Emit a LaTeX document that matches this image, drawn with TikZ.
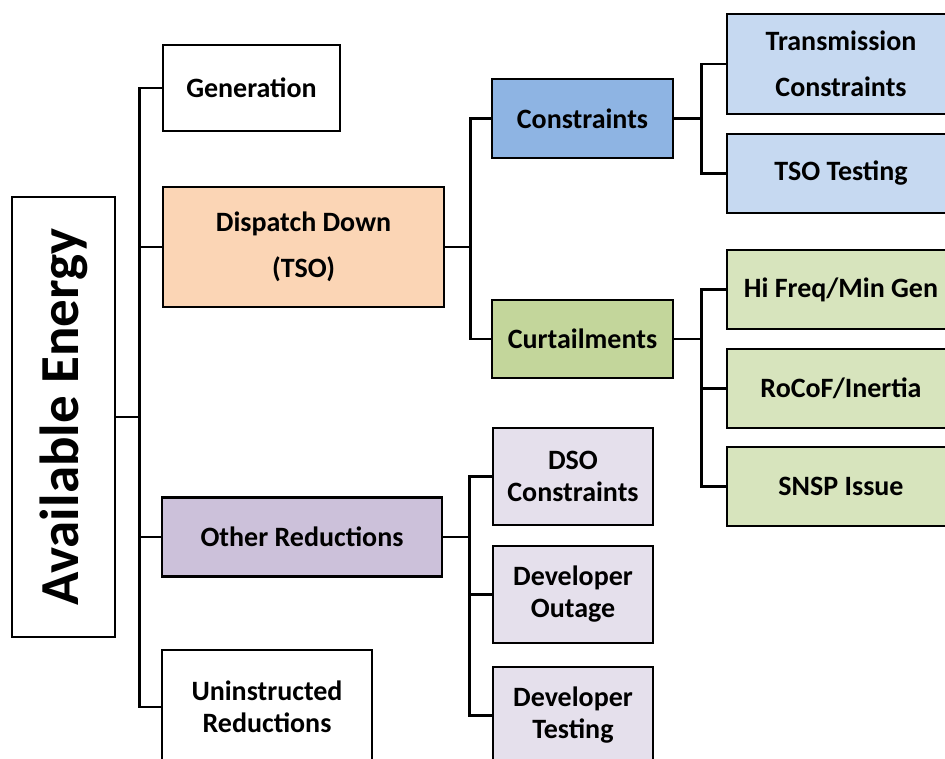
\documentclass[tikz,border=0pt]{standalone}
\usepackage{fontspec}
\setmainfont{Carlito}
\usetikzlibrary{positioning}

\definecolor{peach}{HTML}{FBD5B5}
\definecolor{consblue}{HTML}{8EB4E3}
\definecolor{paleblue}{HTML}{C6D9F1}
\definecolor{curtgreen}{HTML}{C3D69B}
\definecolor{palegreen}{HTML}{D7E4BD}
\definecolor{otherpurple}{HTML}{CCC1DA}
\definecolor{palepurple}{HTML}{E5E0EC}

\begin{document}
\begin{tikzpicture}
	[x=1pt, y=-1pt, on grid,
	 box/.style={draw, line width=2.4pt, align=center, inner sep=0pt,
	   font=\fontsize{28}{32}\selectfont\bfseries},
	 wide/.style={font=\fontsize{28}{46}\selectfont\bfseries},
	 dims/.style 2 args={minimum width=#1pt, minimum height=#2pt},
	 link/.style={line width=2.6pt}]
   \useasboundingbox (0,0) rectangle (945,758);
   \clip (0,0) rectangle (945,758);

   % root
   \node[box, rotate=90, dims={440}{103},
     font=\fontsize{55}{60}\selectfont\bfseries] (avail) at (63.5,417) {Available Energy};

   % first level
   \node[box, dims={177}{86}] (gen) at (251.5,88) {Generation};
   \node[box, wide, fill=peach, dims={281}{120}] (disp) at (303.5,247) {Dispatch Down\\(TSO)};
   \node[box, fill=otherpurple, dims={280}{79}] (other) at (302,537) {Other Reductions};
   \node[box, dims={210}{114}] (unins) at (267,707) {Uninstructed\\Reductions};

   % dispatch down
   \node[box, fill=consblue, dims={181}{79}] (cons) at (582.5,118.5) {Constraints};
   \node[box, fill=curtgreen, dims={181}{78}] (curt) [below=220.5pt of cons] {Curtailments};

   \node[box, wide, fill=paleblue, dims={228}{100}] (trans) at (841,64) {Transmission\\Constraints};
   \node[box, fill=paleblue, dims={228}{79}] (tsot) [below=109.5pt of trans] {TSO Testing};

   \node[box, fill=palegreen, dims={228}{79}] (hifreq) at (841,289.5) {Hi Freq/Min Gen};
   \node[box, fill=palegreen, dims={228}{79}] (rocof) [below=99pt of hifreq] {RoCoF/Inertia};
   \node[box, fill=palegreen, dims={228}{79}] (snsp) [below=98pt of rocof] {SNSP Issue};

   % other reductions
   \node[box, fill=palepurple, dims={160}{97}] (dso) at (573,476.5) {DSO\\Constraints};
   \node[box, fill=palepurple, dims={160}{97}] (devout) [below=118pt of dso] {Developer\\Outage};
   \node[box, fill=palepurple, dims={160}{97}] (devtest) [below=121pt of devout] {Developer\\Testing};

   % connectors
   \draw[link] (avail.south) -- ++(23,0) coordinate (t1) |- (gen.west);
   \draw[link] (t1) |- (disp.west);
   \draw[link] (t1) |- (other.west);
   \draw[link] (t1) |- (unins.west);

   \draw[link] (disp.east) -- ++(25,0) coordinate (t2) |- (cons.west);
   \draw[link] (t2) |- (curt.west);

   \draw[link] (cons.east) -- ++(27,0) coordinate (t3) |- (trans.west);
   \draw[link] (t3) |- (tsot.west);

   \draw[link] (curt.east) -- ++(27,0) coordinate (t4) |- (hifreq.west);
   \draw[link] (t4) |- (rocof.west);
   \draw[link] (t4) |- (snsp.west);

   \draw[link] (other.east) -- ++(26,0) coordinate (t5) |- (dso.west);
   \draw[link] (t5) |- (devout.west);
   \draw[link] (t5) |- (devtest.west);
\end{tikzpicture}
\end{document}
